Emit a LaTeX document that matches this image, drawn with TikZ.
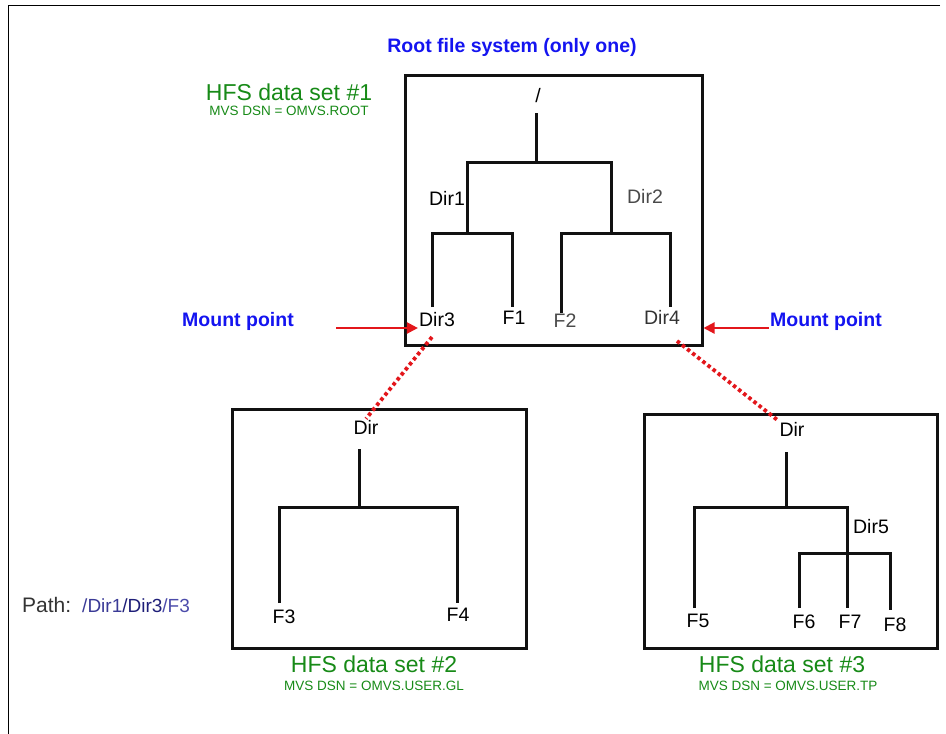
\documentclass[tikz,border=0pt]{standalone}
\usepackage{fontspec}
\setmainfont{Liberation Sans}
\usetikzlibrary{arrows.meta,positioning,calc}
\definecolor{Title}{HTML}{1414F0}
\definecolor{Green}{HTML}{178A17}
\definecolor{Mount}{HTML}{E3161B}
\definecolor{Ink}{HTML}{111111}
\definecolor{Grey}{HTML}{4A4A4A}
\definecolor{PathInk}{HTML}{333333}
\definecolor{PathA}{HTML}{3A3A96}
\definecolor{PathB}{HTML}{1E1E78}
\definecolor{PathC}{HTML}{4B4BAA}

\begin{document}
\begin{tikzpicture}[x=1pt,y=-1pt,
  fsbox/.style={draw=Ink,line width=3pt,inner sep=0pt},
  branch/.style={draw=Ink,line width=3pt},
  fname/.style={font=\fontsize{19.5}{22}\selectfont,inner sep=1pt},
  dsname/.style={Green,font=\fontsize{23}{26}\selectfont,inner sep=1pt},
  dsn/.style={Green,font=\fontsize{13.5}{15}\selectfont,inner sep=1pt},
  note/.style={Title,font=\fontsize{19.5}{22}\bfseries\selectfont,inner sep=1pt},
  mountarrow/.style={draw=Mount,line width=2.2pt,-{Triangle[length=11pt,width=11pt]}},
  mountlink/.style={draw=Mount,line width=3.8pt,dash pattern=on 3.5pt off 3pt}
]
\useasboundingbox (0,0) rectangle (946,734);
\draw[line width=1pt] (940,5) -- (8,5) -- (8,734);

% root file system
\node[note] (rootfs) at (512,47) {Root file system (only one)};
\node[dsname] (ds1) at (289,92) {HFS data set \#1};
\node[dsn] (dsn1) at (289,111) {MVS DSN = OMVS.ROOT};
\node[fsbox,minimum width=297,minimum height=270] (fs1) at (553.5,210) {};

\node[fname] (slash) at (538,96) {/};
\node[fname] (dir1) at (447,198) {Dir1};
\node[fname,Grey] (dir2) at (645,196) {Dir2};
\node[fname] (dir3) at (437,320) {Dir3};
\node[fname] (f1) at (514,318) {F1};
\node[fname,Grey] (f2) at (565,321) {F2};
\node[fname,PathInk] (dir4) at (662,317) {Dir4};

\coordinate (rt) at (536,113);
\coordinate (rj) at (536,162);
\coordinate (d1j) at (467,233);
\coordinate (d2j) at (611,233);
\coordinate (d3e) at (432,307);
\coordinate (f1e) at (512,307);
\coordinate (f2e) at (561,313);
\coordinate (d4e) at (670,307);
\draw[branch] (rt) -- (rj);
\draw[branch] (d1j) |- (rj) -| (d2j);
\draw[branch] (d3e) |- (d1j) -| (f1e);
\draw[branch] (f2e) |- (d2j) -| (d4e);

% mount points
\node[note] (mpl) at (238,321) {Mount point};
\node[note] (mpr) at (826,321) {Mount point};
\coordinate (al) at (336,328);
\coordinate (ar) at (769,328);
\draw[mountarrow] (al) -- (al -| dir3.west);
\draw[mountarrow] (ar) -- (ar -| fs1.east);

% data set 2
\node[fsbox,minimum width=294,minimum height=239] (fs2) at (379,528.5) {};
\node[dsname] (ds2) at (374,664) {HFS data set \#2};
\node[dsn] (dsn2) at (374,686) {MVS DSN = OMVS.USER.GL};
\node[fname] (top2) at (366,427) {Dir};
\node[fname] (f3) at (284,617) {F3};
\node[fname] (f4) at (458,615) {F4};
\coordinate (t2) at (359,449);
\coordinate (j2) at (359,507);
\coordinate (f3e) at (279,603);
\coordinate (f4e) at (457,603);
\draw[branch] (t2) -- (j2);
\draw[branch] (f3e) |- (j2) -| (f4e);

% data set 3
\node[fsbox,minimum width=293,minimum height=234] (fs3) at (790.5,531) {};
\node[dsname] (ds3) at (782,664) {HFS data set \#3};
\node[dsn] (dsn3) at (788,686) {MVS DSN = OMVS.USER.TP};
\node[fname] (top3) at (792,429) {Dir};
\node[fname] (dir5) at (871,527) {Dir5};
\node[fname] (f5) at (698,621) {F5};
\node[fname] (f6) at (804,622) {F6};
\node[fname] (f7) at (850,622) {F7};
\node[fname] (f8) at (895,625) {F8};
\coordinate (t3) at (786,452);
\coordinate (j3) at (786,507);
\coordinate (d5j) at (847,553);
\coordinate (f5e) at (694,608);
\coordinate (f6e) at (799,608);
\coordinate (f7e) at (847,608);
\coordinate (f8e) at (890,610);
\draw[branch] (t3) -- (j3);
\draw[branch] (f5e) |- (j3) -| (f7e);
\draw[branch] (f6e) |- (d5j) -| (f8e);

% mount links
\coordinate (m3) at (432,337);
\coordinate (m4) at (677,341);
\draw[mountlink] (m3) -- (top2.north);
\draw[mountlink] (m4) -- (top3.north west);

\node[anchor=west,inner sep=0pt] (path) at (22,605)
  {{\color{PathInk}\fontsize{21}{24}\selectfont Path:}\hspace{11pt}{\fontsize{19}{22}\selectfont\textcolor{PathA}{/Dir1}\textcolor{PathB}{/Dir3}\textcolor{PathC}{/F3}}};
\end{tikzpicture}
\end{document}
